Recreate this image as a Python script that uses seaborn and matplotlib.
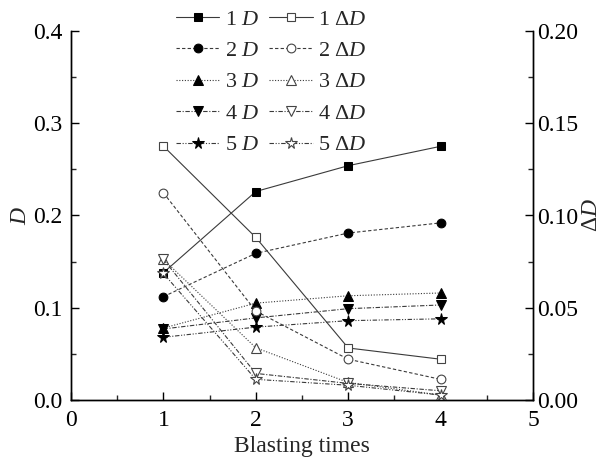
import numpy as np
import pandas as pd
import seaborn as sns
import matplotlib
matplotlib.use("Agg")
import matplotlib.pyplot as plt
from matplotlib.ticker import MultipleLocator, FormatStrFormatter

sns.set_style("ticks")
plt.rcParams["font.family"] = ["Liberation Serif", "DejaVu Serif"]
plt.rcParams["mathtext.fontset"] = "custom"
plt.rcParams["mathtext.rm"] = "Liberation Serif"
plt.rcParams["mathtext.it"] = "Liberation Serif:italic"

# Blasting times
blasts = [1, 2, 3, 4]

# Cumulative damage D per measuring line
D1 = [0.138, 0.226, 0.254, 0.275]
D2 = [0.112, 0.159, 0.181, 0.192]
D3 = [0.078, 0.105, 0.113, 0.116]
D4 = [0.077, 0.089, 0.099, 0.103]
D5 = [0.068, 0.079, 0.086, 0.088]

# Damage increment ΔD per measuring line
dD1 = [0.1376, 0.0881, 0.0282, 0.0221]
dD2 = [0.1123, 0.0482, 0.0221, 0.0112]
dD3 = [0.0762, 0.0283, 0.0095, 0.0027]
dD4 = [0.0762, 0.0144, 0.0090, 0.0050]
dD5 = [0.0686, 0.0112, 0.0080, 0.0027]

line_ids = ["1", "2", "3", "4", "5"]
D_series = [D1, D2, D3, D4, D5]
dD_series = [dD1, dD2, dD3, dD4, dD5]

markers = ["s", "o", "^", "v", "*"]
styles = ["-", (0, (3, 2)), (0, (1, 1.5)), (0, (4, 1.5, 1, 1.5)),
          (0, (4, 1.5, 1, 1.5, 1, 1.5))]
sizes = [5.8, 6.3, 7.0, 7.0, 8.5]
line_col = "#3a3a3a"
FS = 17

fig = plt.figure(figsize=(6.05, 4.57), dpi=100)
ax = fig.add_axes([71 / 605, 1 - 400 / 457, (533 - 71) / 605, (400 - 31) / 457])
ax2 = ax.twinx()

handles_D, handles_dD = [], []
for i, lid in enumerate(line_ids):
    df = pd.DataFrame({"t": blasts, "D": D_series[i], "dD": dD_series[i]})
    sns.lineplot(data=df, x="t", y="D", ax=ax, color=line_col, lw=0.8,
                 linestyle=styles[i], marker=markers[i], markersize=sizes[i],
                 markerfacecolor="black", markeredgecolor="black",
                 label=f"{lid} $D$", legend=False)
    handles_D.append(ax.lines[-1])
    sns.lineplot(data=df, x="t", y="dD", ax=ax2, color=line_col, lw=0.8,
                 linestyle=styles[i], marker=markers[i], markersize=sizes[i],
                 markerfacecolor="white", markeredgecolor="#444444",
                 markeredgewidth=0.8,
                 label=f"{lid} Δ$D$", legend=False)
    handles_dD.append(ax2.lines[-1])

ax.set_xlim(0, 5)
ax.set_ylim(0, 0.4)
ax2.set_ylim(0, 0.2)

ax.xaxis.set_major_locator(MultipleLocator(1))
ax.xaxis.set_minor_locator(MultipleLocator(0.5))
ax.yaxis.set_major_locator(MultipleLocator(0.1))
ax.yaxis.set_minor_locator(MultipleLocator(0.05))
ax.yaxis.set_major_formatter(FormatStrFormatter("%.1f"))
ax2.yaxis.set_major_locator(MultipleLocator(0.05))
ax2.yaxis.set_minor_locator(MultipleLocator(0.025))
ax2.yaxis.set_major_formatter(FormatStrFormatter("%.2f"))

for a in (ax, ax2):
    a.spines["top"].set_visible(False)
    for s in a.spines.values():
        s.set_linewidth(1.0)
        s.set_color("black")
    a.tick_params(which="major", direction="in", length=6, width=1.0,
                  labelsize=FS, colors="black")
    a.tick_params(which="minor", direction="in", length=3.5, width=1.0)
ax.tick_params(axis="y", which="both", right=False, pad=6)
ax.tick_params(axis="x", which="both", top=False, pad=7)
ax2.tick_params(axis="y", which="both", left=False, right=True, pad=3)

ax.set_xlabel("Blasting times", fontsize=FS, labelpad=4)
ax.set_ylabel("$D$", fontsize=FS, labelpad=2)
ax2.set_ylabel("Δ$D$", fontsize=FS, labelpad=2)

handles = handles_D + handles_dD
labels = [h.get_label() for h in handles]
fig.legend(handles, labels, ncol=2, loc="upper left",
           bbox_to_anchor=(176 / 605, 1.0 - 9 / 457), frameon=False,
           fontsize=16, handlelength=1.95, handletextpad=0.25,
           columnspacing=0.45, labelspacing=0.49, borderpad=0.0,
           borderaxespad=0.0)

fig.savefig("out.png", dpi=100)
